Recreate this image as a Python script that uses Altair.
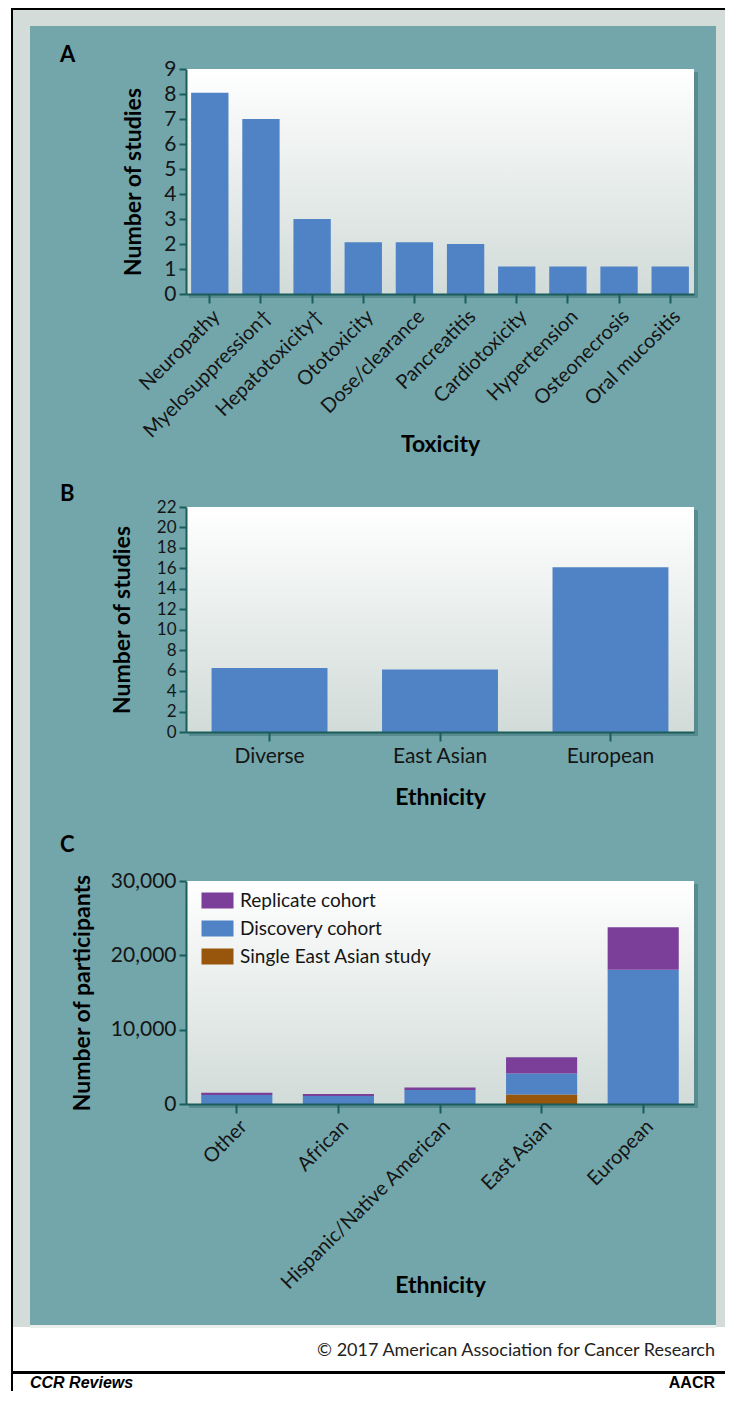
import altair as alt
import pandas as pd

FONT = "Lato"
BLUE = "#4f83c5"
PURPLE = "#7b3f99"
BROWN = "#97560c"
TEAL = "#72a6ab"
GRAY = "#d3dcd9"
AXC = "#1b5d5b"

# ---------------- data ----------------
tox_cats = ["Neuropathy", "Myelosuppression\u2020", "Hepatotoxicity\u2020", "Ototoxicity",
            "Dose/clearance", "Pancreatitis", "Cardiotoxicity", "Hypertension",
            "Osteonecrosis", "Oral mucositis"]
tox_studies = [8.05, 7.0, 3.0, 2.07, 2.07, 2.0, 1.1, 1.1, 1.1, 1.1]

eth_b_cats = ["Diverse", "East Asian", "European"]
eth_b_studies = [6.25, 6.1, 16.1]

eth_c_cats = ["Other", "African", "Hispanic/Native American", "East Asian", "European"]
cohort_names = ["Replicate cohort", "Discovery cohort", "Single East Asian study"]
replicate = [330, 270, 320, 2170, 5720]
discovery = [1200, 1080, 1900, 2840, 18050]
single_ea = [0, 0, 0, 1270, 0]

# ---------------- layout (pixels of the single canvas) ----------------
CW, CH = 725, 1383
PL, PR = 178, 686                 # plot left / right for all panels
A_T, A_B = 61, 286                # panel A plot top / bottom
B_T, B_B = 499, 724
C_T, C_B = 873, 1096
ONE = alt.Data(values=[{"k": 1}])

GRAD = alt.LinearGradient(
    gradient="linear", x1=0, x2=0, y1=0, y2=1,
    stops=[alt.GradientStop(color="#ffffff", offset=0),
           alt.GradientStop(color="#d1dbd8", offset=1)])


def rect(x1, x2, y1, y2, fill, opacity=1.0):
    return alt.Chart(ONE).mark_rect(fill=fill, opacity=opacity).encode(
        x=alt.value(x1), x2=alt.value(x2), y=alt.value(y1), y2=alt.value(y2))


def label(txt, x, y, size, weight="bold", align="left", italic=False,
          color="black", baseline="middle", font=FONT):
    kw = dict(text=txt, font=font, fontSize=size, fontWeight=weight,
              align=align, baseline=baseline, color=color)
    if italic:
        kw["fontStyle"] = "italic"
    return alt.Chart(ONE).mark_text(**kw).encode(x=alt.value(x), y=alt.value(y))


def plot_box(top, bottom):
    return [rect(PL + 3, PR + 4, top + 3, bottom + 4, "#3d6f73", 0.5),
            rect(PL, PR, top, bottom, GRAD)]


common = dict(domainColor=AXC, domainWidth=2, tickColor=AXC, tickWidth=2,
              labelFont=FONT, labelColor="#151515", titleFont=FONT,
              titleFontWeight="bold", titleColor="black", titleFontSize=23,
              grid=False, zindex=1, titleBaseline="middle", labelLimit=400)

# ---------------- panel A ----------------
df_a = pd.DataFrame({"Toxicity": tox_cats, "Studies": tox_studies})
bars_a = alt.Chart(df_a).mark_bar(color=BLUE).encode(
    x=alt.X("Toxicity:N", sort=tox_cats,
            scale=alt.Scale(range=[PL, PR], paddingInner=0.27, paddingOuter=0.1),
            axis=alt.Axis(title="Toxicity", orient="bottom", offset=A_B - CH,
                          labelAngle=-45, labelFontSize=20, tickSize=9,
                          labelPadding=3, titleY=150, **common)),
    y=alt.Y("Studies:Q", scale=alt.Scale(domain=[0, 9], nice=False, range=[A_B, A_T]),
            axis=alt.Axis(title="Number of studies", orient="left", offset=-PL,
                          values=list(range(10)), labelFontSize=21, tickSize=7,
                          labelPadding=3, titleX=-53, titleY=(A_T + A_B) / 2,
                          **common)),
)

# ---------------- panel B ----------------
df_b = pd.DataFrame({"Ethnicity": eth_b_cats, "Studies": eth_b_studies})
bars_b = alt.Chart(df_b).mark_bar(color=BLUE).encode(
    x=alt.X("Ethnicity:N", sort=eth_b_cats,
            scale=alt.Scale(range=[PL, PR], paddingInner=0.32, paddingOuter=0.15),
            axis=alt.Axis(title="Ethnicity", orient="bottom", offset=B_B - CH,
                          labelAngle=0, labelFontSize=21, tickSize=9,
                          labelPadding=4, titleY=65, **common)),
    y=alt.Y("Studies:Q", scale=alt.Scale(domain=[0, 22], nice=False, range=[B_B, B_T]),
            axis=alt.Axis(title="Number of studies", orient="left", offset=-PL,
                          values=list(range(0, 23, 2)), labelFontSize=17, tickSize=7,
                          labelPadding=3, titleX=-64, titleY=(B_T + B_B) / 2,
                          **common)),
)

# ---------------- panel C ----------------
rows = []
for i, cat in enumerate(eth_c_cats):
    for order, (name, vals) in enumerate(zip(
            ["Single East Asian study", "Discovery cohort", "Replicate cohort"],
            [single_ea, discovery, replicate])):
        if vals[i] > 0:
            rows.append({"Ethnicity": cat, "Cohort": name, "Participants": vals[i],
                         "ord": order})
df_c = pd.DataFrame(rows)

bars_c = alt.Chart(df_c).mark_bar().encode(
    x=alt.X("Ethnicity:N", sort=eth_c_cats,
            scale=alt.Scale(range=[PL, PR], paddingInner=0.3, paddingOuter=0.15),
            axis=alt.Axis(title="Ethnicity", orient="bottom", offset=C_B - CH,
                          labelAngle=-45, labelFontSize=20, tickSize=9,
                          labelPadding=3, titleY=181, **common)),
    y=alt.Y("Participants:Q", stack="zero",
            scale=alt.Scale(domain=[0, 30000], nice=False, range=[C_B, C_T]),
            axis=alt.Axis(title="Number of participants", orient="left", offset=-PL,
                          values=[0, 10000, 20000, 30000], format=",d",
                          labelFontSize=21, tickSize=7, labelPadding=3,
                          titleX=-104, titleY=(C_T + C_B) / 2, **common)),
    color=alt.Color("Cohort:N",
                    scale=alt.Scale(domain=cohort_names, range=[PURPLE, BLUE, BROWN]),
                    legend=alt.Legend(orient="none", legendX=PL + 22, legendY=C_T + 10,
                                      title=None,
                                      symbolType="M-2,-1L2,-1L2,1L-2,1Z",
                                      symbolSize=256, symbolStrokeWidth=0,
                                      symbolOpacity=1, labelFont=FONT,
                                      labelFontSize=19, labelColor="#151515",
                                      labelOffset=13, rowPadding=8, labelLimit=400)),
    order=alt.Order("ord:Q"),
)

# ---------------- frame & decorations ----------------
frame = [
    rect(5, CW, 2, 1319, GRAY),
    rect(22, 708, 1317, 1320, "#e9eeec"),
    rect(3, 5, 0, CH, "black"),
    rect(3, CW, 0, 2, "black"),
    rect(22, 708, 18, 1317, TEAL),
    *plot_box(A_T, A_B), *plot_box(B_T, B_B), *plot_box(C_T, C_B),
]
texts = [
    label("A", 52, 47, 22),
    label("B", 52, 486, 22),
    label("C", 52, 837, 22),
    label("\u00a9 2017 American Association for Cancer Research", 707, 1343, 18,
          weight="normal", align="right", color="#222222"),
    rect(3, CW, 1363, 1366, "black"),
    label("CCR Reviews", 22, 1380, 16, italic=True, baseline="alphabetic",
          font="Liberation Sans"),
    label("AACR", 707, 1380, 16, align="right", baseline="alphabetic",
          font="Liberation Sans"),
]

base = alt.layer(*frame, bars_a, bars_b, bars_c, *texts).resolve_scale(
    x="independent", y="independent", color="independent"
)


def finish(pad):
    return base.properties(
        width=CW, height=CH, padding=pad, background="white",
        autosize=alt.AutoSizeParams(type="none"),
    ).configure_view(strokeWidth=0)


try:
    chart = finish({"top": 0, "left": 0, "right": -8, "bottom": 0})
    chart.to_dict()
except Exception:
    chart = finish(0)

chart.save("out.html", embed_options={"renderer": "svg", "actions": False})
